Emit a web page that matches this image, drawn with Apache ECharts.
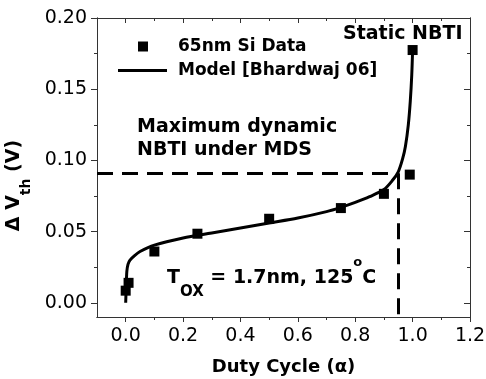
<!DOCTYPE html>
<html>
<head>
<meta charset="utf-8">
<script src="https://cdn.jsdelivr.net/npm/echarts@6/dist/echarts.min.js"></script>
<style>
  html, body { margin: 0; padding: 0; background: #fff; }
  #chart { width: 486px; height: 379px; }
</style>
</head>
<body>
<div id="chart"></div>
<script>
// measured data points (65nm Si)
const dataX = [0, 0.01, 0.1, 0.25, 0.5, 0.75, 0.9, 0.99, 1.0];
const dataY = [0.0085, 0.014, 0.036, 0.0485, 0.059, 0.0665, 0.0765, 0.09, 0.1775];

// model curve
const modelX = [0, 0.002, 0.004, 0.008, 0.015, 0.03, 0.05, 0.1, 0.2, 0.3, 0.4, 0.5, 0.6, 0.7, 0.75, 0.8, 0.85, 0.9, 0.93, 0.95, 0.965, 0.975, 0.985, 0.992, 0.997, 1.0];
const modelY = [0, 0.012, 0.022, 0.027, 0.030, 0.033, 0.036, 0.0405, 0.0455, 0.049, 0.0525, 0.056, 0.0595, 0.064, 0.067, 0.0705, 0.0745, 0.0795, 0.086, 0.092, 0.101, 0.110, 0.125, 0.142, 0.160, 0.1775];

// max dynamic NBTI point (dashed guides)
const mdsX = 0.95;
const mdsY = 0.091;

const xRange = [-0.1, 1.2];
const yRange = [-0.01, 0.2];
const xTicks = [0, 0.2, 0.4, 0.6, 0.8, 1.0, 1.2];
const xMinor = [0.1, 0.3, 0.5, 0.7, 0.9, 1.1];
const yTicks = [0, 0.05, 0.1, 0.15, 0.2];
const yMinor = [0.025, 0.075, 0.125, 0.175];

const FONT = "DejaVu Sans";
const AXIS_COLOR = "#333";

const chart = echarts.init(document.getElementById("chart"), null, { renderer: "canvas" });

function axisBase(pos, range, ticks, len, inside, labels, fmt) {
  return {
    type: "value",
    position: pos,
    min: range[0],
    max: range[1],
    splitLine: { show: false },
    axisLine: { show: true, onZero: false, lineStyle: { color: AXIS_COLOR, width: 1 } },
    axisTick: { show: true, inside, length: len, customValues: ticks, lineStyle: { color: AXIS_COLOR, width: 1 } },
    axisLabel: labels
      ? { show: true, customValues: ticks, formatter: fmt, color: "#000", fontFamily: FONT, fontSize: 19, margin: 10 }
      : { show: false },
  };
}

const xMain = axisBase("bottom", xRange, xTicks, 5, false, true, (v) => v.toFixed(1));
xMain.name = "{a|Duty Cycle (α)}";
xMain.nameLocation = "middle";
xMain.nameGap = 41;
xMain.nameTextStyle = {
  rich: { a: { fontFamily: FONT, fontSize: 18, fontWeight: "bold", color: "#000" } },
};

const yMain = axisBase("left", yRange, yTicks, 6, false, true, (v) => v.toFixed(2));
yMain.name = "{a|Δ V}{sub|th}{a| (V)}";
yMain.nameLocation = "middle";
yMain.nameGap = 59;
yMain.nameRotate = 90;
yMain.nameTextStyle = {
  padding: [0, 36, 0, 0],
  rich: {
    a: { fontFamily: FONT, fontSize: 19, fontWeight: "bold", color: "#000", lineHeight: 40 },
    sub: { fontFamily: FONT, fontSize: 14, fontWeight: "bold", color: "#000", lineHeight: 14, verticalAlign: "bottom" },
  },
};

chart.setOption({
  backgroundColor: "#fff",
  animation: false,
  grid: { left: 97, right: 16, top: 18, bottom: 62, outerBoundsMode: "none" },
  legend: {
    orient: "vertical",
    left: 113,
    top: 31,
    itemWidth: 49,
    itemHeight: 10,
    itemGap: 3,
    selectedMode: false,
    textStyle: { fontFamily: FONT, fontSize: 17, fontWeight: "bold", color: "#000", lineHeight: 21, padding: [0, 0, 0, 6] },
    data: [
      // small square centred in a 49x10 box
      { name: "65nm Si Data", icon: "path://M0,5L0,5M20,0H30V10H20ZM49,5L49,5" },
      // plain 3px bar as the line sample
      { name: "Model [Bhardwaj 06]", icon: "path://M0,0L0,0M0,3.5H49V6.5H0ZM49,10L49,10" },
    ],
  },
  xAxis: [
    xMain,
    axisBase("bottom", xRange, xMinor, 3, false, false),
    axisBase("top", xRange, xTicks, 5, true, false),
    axisBase("top", xRange, xMinor, 3, true, false),
  ],
  yAxis: [
    yMain,
    axisBase("left", yRange, yMinor, 3, false, false),
    axisBase("right", yRange, yTicks, 6, true, false),
    axisBase("right", yRange, yMinor, 3, true, false),
  ],
  series: [
    {
      name: "Model [Bhardwaj 06]",
      type: "line",
      xAxisIndex: 0,
      yAxisIndex: 0,
      data: modelX.map((x, i) => [x, modelY[i]]),
      symbol: "none",
      smooth: 0.3,
      lineStyle: { color: "#000", width: 3 },
      itemStyle: { color: "#000" },
      z: 3,
      markLine: {
        silent: true,
        symbol: ["none", "none"],
        label: { show: false },
        lineStyle: { color: "#000", width: 3, type: [16, 9] },
        data: [
          [{ coord: [xRange[0], mdsY] }, { coord: [mdsX, mdsY] }],
          [{ coord: [mdsX, mdsY] }, { coord: [mdsX, yRange[0]] }],
        ],
      },
    },
    {
      name: "65nm Si Data",
      type: "scatter",
      xAxisIndex: 0,
      yAxisIndex: 0,
      data: dataX.map((x, i) => [x, dataY[i]]),
      symbol: "rect",
      symbolSize: 10,
      itemStyle: { color: "#000", opacity: 1 },
      z: 4,
    },
  ],
  graphic: [
    {
      type: "text", left: 343, top: 25,
      style: { text: "Static NBTI", font: `bold 19px "${FONT}"`, fill: "#000" },
    },
    {
      type: "text", left: 137, top: 116,
      style: { text: "Maximum dynamic\nNBTI under MDS", font: `bold 19px "${FONT}"`, fill: "#000", lineHeight: 22.5 },
    },
    {
      type: "text", left: 167, top: 256,
      style: {
        text: "{a|T}{sub|OX}{a| = 1.7nm, 125}{sup|o}{a|C}",
        fill: "#000",
        rich: {
          a: { fontFamily: FONT, fontSize: 19, fontWeight: "bold", lineHeight: 44 },
          sub: { fontFamily: FONT, fontSize: 15, fontWeight: "bold", lineHeight: 15, verticalAlign: "bottom" },
          sup: { fontFamily: FONT, fontSize: 13, fontWeight: "bold", lineHeight: 26, verticalAlign: "top" },
        },
      },
    },
  ],
});
</script>
</body>
</html>
